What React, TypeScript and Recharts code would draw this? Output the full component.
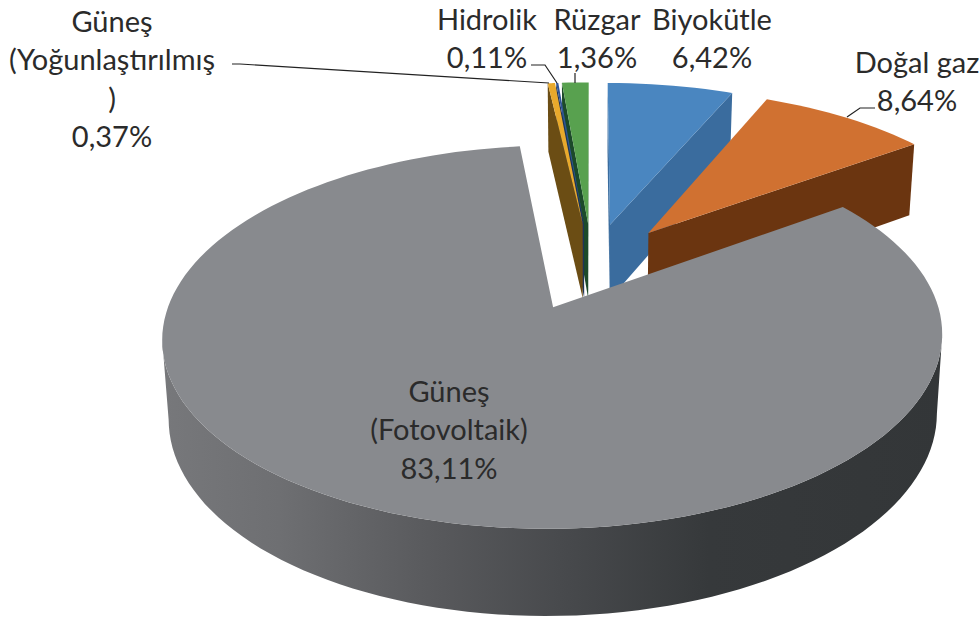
import React from 'react';
import { PieChart, Pie } from 'recharts';

// right of 12 o'clock, clockwise; the big grey slice paints last
const frontNames = ['Biyokütle', 'Doğal gaz', 'Güneş (Fotovoltaik)'];
const frontShares = [6.42, 8.64, 83.11];
const frontColors = ['#4a86c0', '#d07131', '#888a8e'];
const frontWalls = ['#3a6c9e', '#6b3510', 'url(#greyWall)'];

// left of 12 o'clock, counter-clockwise, so each one overlaps the previous
const backNames = ['Rüzgar', 'Hidrolik', 'Güneş (Yoğunlaştırılmış)'];
const backShares = [1.36, 0.11, 0.37];
const backColors = ['#58a14f', '#2f5597', '#e8a92c'];
const backWalls = ['#1c4a2a', '#1e3358', '#6b4d14'];

const frontData = frontNames.map((name, i) => ({ name, value: frontShares[i], fill: frontColors[i], wall: frontWalls[i] }));
const backData = backNames.map((name, i) => ({ name, value: backShares[i], fill: backColors[i], wall: backWalls[i] }));

const sum = (list: number[]) => list.reduce((a, b) => a + b, 0);
const backSpan = (sum(backShares) / (sum(backShares) + sum(frontShares))) * 360;

const CX = 592;
const CY = 266;
const RADIUS = 372;
const TILT = 0.469;
const PERSPECTIVE = 0.15;
const EXPLODE = 0.25;
const FONT_SIZE = 29;
const LINE_GAP = 38.5;

const labelLayout: Record<string, any> = {
  'Güneş (Yoğunlaştırılmış)': { x: 112, y: 20, lines: ['Güneş', '(Yoğunlaştırılmış', ')'], leader: '232,64 240,64 549,83' },
  Hidrolik: { x: 487, y: 18, lines: ['Hidrolik'], leader: '531,65 545,65 557,83' },
  Rüzgar: { x: 597, y: 18, lines: ['Rüzgar'], leader: '575,73 575,83' },
  Biyokütle: { x: 712, y: 18, lines: ['Biyokütle'] },
  'Doğal gaz': { x: 917, y: 61, lines: ['Doğal gaz'], leader: '875,108 860,108 847,117' },
  'Güneş (Fotovoltaik)': { x: 449, y: 390, lines: ['Güneş', '(Fotovoltaik)'] },
};

const project = (cx: number, cy: number, r: number, x: number, y: number) => {
  const w = 1 - PERSPECTIVE * y;
  return [cx + (r * x) / w, cy + (r * TILT * y) / w];
};

const drop = (cx: number, p: number[]) => [cx + (p[0] - cx) * 0.985, p[1] + 71 + 0.042 * (p[1] - 144)];

const toPath = (pts: number[][]) =>
  'M' + pts.map((p) => `${p[0].toFixed(1)},${p[1].toFixed(1)}`).join('L') + 'Z';

const Slice3D = (props: any) => {
  const { cx, cy, outerRadius, startAngle, endAngle, fill, wall, payload } = props;
  const wallFill = wall || (payload && payload.wall);
  const a0 = 90 - Math.max(startAngle, endAngle);
  const a1 = 90 - Math.min(startAngle, endAngle);
  const mid = (((a0 + a1) / 2) * Math.PI) / 180;
  const ox = EXPLODE * Math.sin(mid);
  const oy = -EXPLODE * Math.cos(mid);
  const pt = (deg: number) => {
    const t = (deg * Math.PI) / 180;
    return project(cx, cy, outerRadius, ox + Math.sin(t), oy - Math.cos(t));
  };
  const apex = project(cx, cy, outerRadius, ox, oy);
  const step = Math.min(2, (a1 - a0) / 4);
  const rim: number[][] = [];
  for (let a = a0; a < a1; a += step) rim.push(pt(a));
  rim.push(pt(a1));

  // outer wall: only the part of the rim that runs leftwards faces the viewer
  const front = rim.filter((p, i) => (i > 0 && p[0] < rim[i - 1][0]) || (i < rim.length - 1 && rim[i + 1][0] < p[0]));
  const first = rim[0];
  const last = rim[rim.length - 1];

  return (
    <g>
      <defs>
        <linearGradient id="greyWall" gradientUnits="userSpaceOnUse" x1="162" y1="0" x2="943" y2="0">
          <stop offset="0" stopColor="#77787b" />
          <stop offset="0.15" stopColor="#6e6f72" />
          <stop offset="0.35" stopColor="#58595c" />
          <stop offset="0.52" stopColor="#47494c" />
          <stop offset="0.7" stopColor="#36393b" />
          <stop offset="1" stopColor="#333638" />
        </linearGradient>
      </defs>
      {front.length > 1 && (
        <path d={toPath([...front, ...front.map((p) => drop(cx, p)).reverse()])} fill={wallFill} />
      )}
      {first[0] < apex[0] && <path d={toPath([apex, first, drop(cx, first), drop(cx, apex)])} fill={wallFill} />}
      {last[0] > apex[0] && <path d={toPath([apex, last, drop(cx, last), drop(cx, apex)])} fill={wallFill} />}
      <path d={toPath([apex, ...rim])} fill={fill} />
    </g>
  );
};

const SliceLabel = (props: any) => {
  const { name, value } = props;
  const spot = labelLayout[name];
  const lines = [...spot.lines, Number(value).toFixed(2).replace('.', ',') + '%'];
  return (
    <g>
      {spot.leader && <polyline points={spot.leader} fill="none" stroke="#222" strokeWidth={1.2} />}
      {lines.map((text: string, i: number) => (
        <text
          key={i}
          x={spot.x}
          y={spot.y + i * LINE_GAP}
          textAnchor="middle"
          dominantBaseline="central"
          fontFamily="Lato, sans-serif"
          fontSize={FONT_SIZE}
          fill="#2b2b2b"
        >
          {text}
        </text>
      ))}
    </g>
  );
};

export default function App() {
  return (
    <div style={{ position: 'absolute', left: 0, top: 0, width: 980, height: 617, background: '#fff' }}>
      <PieChart width={980} height={617} margin={{ top: 0, right: 0, bottom: 0, left: 0 }}>
        <Pie
          data={backData}
          dataKey="value"
          nameKey="name"
          cx={CX}
          cy={CY}
          outerRadius={RADIUS}
          startAngle={90}
          endAngle={90 + backSpan}
          stroke="none"
          shape={Slice3D}
          label={SliceLabel}
          labelLine={false}
          isAnimationActive={false}
        />
        <Pie
          data={frontData}
          dataKey="value"
          nameKey="name"
          cx={CX}
          cy={CY}
          outerRadius={RADIUS}
          startAngle={90}
          endAngle={90 + backSpan - 360}
          stroke="none"
          shape={Slice3D}
          label={SliceLabel}
          labelLine={false}
          isAnimationActive={false}
        />
      </PieChart>
    </div>
  );
}
